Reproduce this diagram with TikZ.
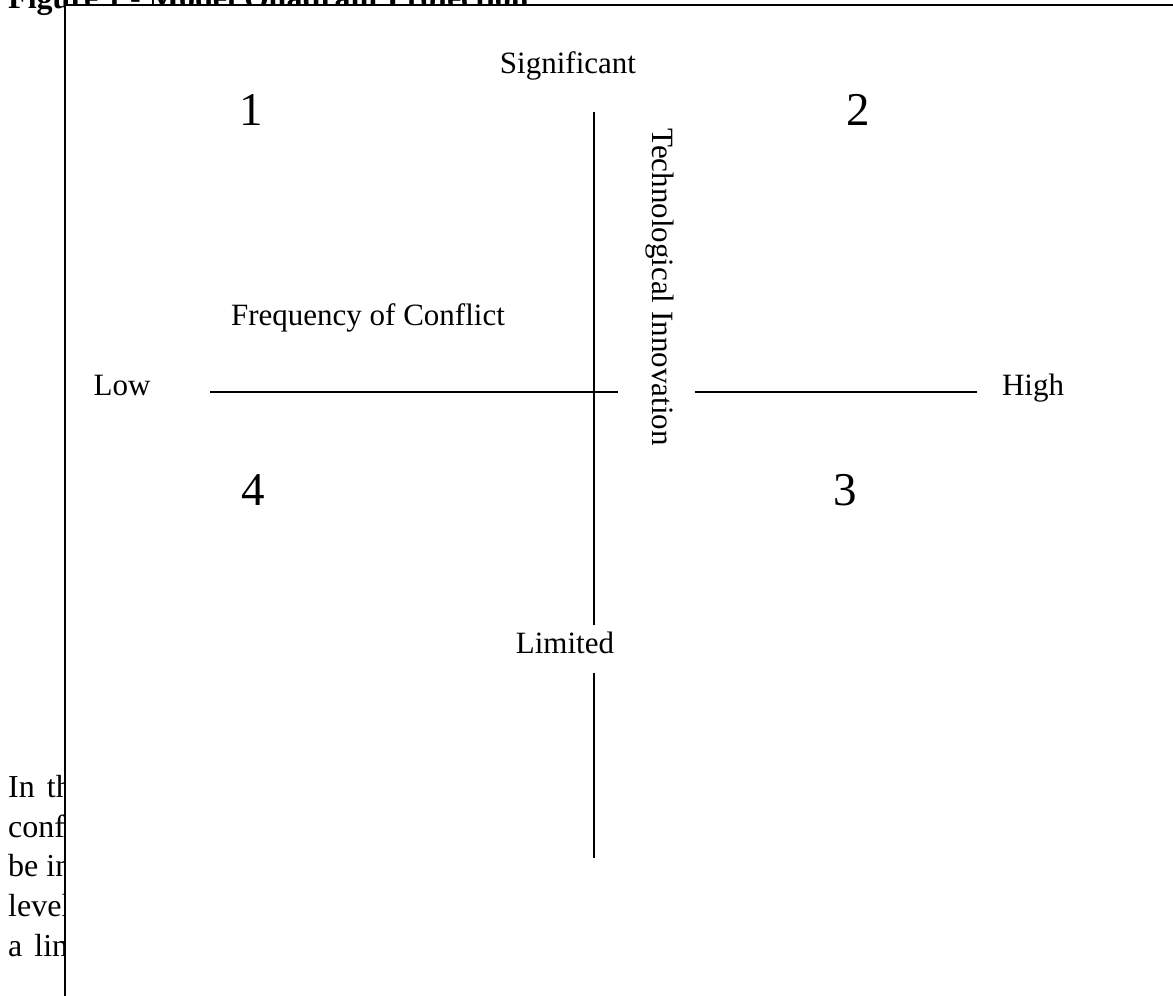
\documentclass[tikz,border=0pt]{standalone}
\usepackage{fontspec}
\setmainfont{Liberation Serif}
\begin{document}
\begin{tikzpicture}[x=1pt,y=-1pt,
  lbl/.style={anchor=base,inner sep=0pt,font=\fontsize{31}{37}\selectfont},
  num/.style={anchor=base,inner sep=0pt,font=\fontsize{47}{56}\selectfont},
  axis/.style={line width=2pt},
  body/.style={anchor=base west,inner sep=0pt,font=\fontsize{32}{40}\selectfont},
  frame/.style={fill=white,draw=black,line width=2pt}]
\useasboundingbox (0,0) rectangle (1173,996);
\clip (0,0) rectangle (1173,996);
% page text behind the figure frame
\node[body,font=\bfseries\fontsize{32}{40}\selectfont] (title) at (8,8) {Figure 1 - Model Quadrant Projection};
\node[body] (p1) at (8,797) {In\hspace{4pt} th};
\node[body] (p2) at (8,837) {conf};
\node[body] (p3) at (8,876) {be in};
\node[body] (p4) at (8,916) {level};
\node[body] (p5) at (8,956) {a\hspace{4pt} lin};
% frame
\filldraw[frame] (65,5) rectangle (1210,1030);
% axes
\coordinate (hl1) at (210,392);
\coordinate (hl2) at (618,392);
\coordinate (hr1) at (695,392);
\coordinate (hr2) at (977,392);
\coordinate (vt1) at (594,112);
\coordinate (vt2) at (594,625);
\coordinate (vb1) at (594,673);
\coordinate (vb2) at (594,858);
\draw[axis] (hl1) -- (hl2);
\draw[axis] (hr1) -- (hr2);
\draw[axis] (vt1) -- (vt2);
\draw[axis] (vb1) -- (vb2);
% labels
\node[lbl] (sig) at (568,73) {Significant};
\node[lbl] (lim) at (565,653) {Limited};
\node[lbl] (low) at (122,395) {Low};
\node[lbl] (high) at (1033,395) {High};
\node[lbl] (freq) at (368,325) {Frequency of Conflict};
\node[lbl,anchor=center,rotate=-90] (tech) at (660,287) {Technological Innovation};
\node[num] (q1) at (251,125) {1};
\node[num] (q2) at (858,125) {2};
\node[num] (q3) at (845,505) {3};
\node[num] (q4) at (253,505) {4};
\end{tikzpicture}
\end{document}
